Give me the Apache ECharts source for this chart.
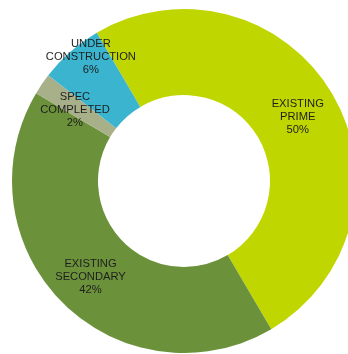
<!DOCTYPE html>
<html>
<head>
<meta charset="utf-8">
<style>
  html, body { margin: 0; padding: 0; background: #ffffff; }
  #chart { width: 348px; height: 354px; }
</style>
<script src="https://cdn.jsdelivr.net/npm/echarts@6/dist/echarts.min.js"></script>
</head>
<body>
<div id="chart"></div>
<script>
// Office stock by status, share of total (%)
const categories = ['EXISTING\nPRIME', 'EXISTING\nSECONDARY', 'SPEC\nCOMPLETED', 'UNDER\nCONSTRUCTION'];
const shares = [50, 42, 2, 6];
const colors = ['#c0d600', '#6b923b', '#a8b08a', '#3bb5cf'];

const chart = echarts.init(document.getElementById('chart'), null, { renderer: 'canvas' });

const data = categories.map((name, i) => {
  const item = { name: name, value: shares[i], itemStyle: { color: colors[i] } };
  // the thin spec slice shares space with its neighbour, so lift this label outward
  if (i === 3) item.label = { offset: [-6, -25] };
  return item;
});

chart.setOption({
  animation: false,
  series: [{
    type: 'pie',
    center: [184, 181],
    radius: [86, 172],
    startAngle: 120.5,
    clockwise: true,
    avoidLabelOverlap: false,
    silent: true,
    itemStyle: { borderWidth: 0 },
    label: {
      show: true,
      position: 'inside',
      offset: [0, 3],
      formatter: p => p.name + '\n' + p.value + '%',
      color: '#1e1e1e',
      fontFamily: '"Liberation Sans", Arial, Helvetica, sans-serif',
      fontSize: 11.2,
      lineHeight: 13.2,
      align: 'center'
    },
    labelLine: { show: false },
    data: data
  }]
});
</script>
</body>
</html>
